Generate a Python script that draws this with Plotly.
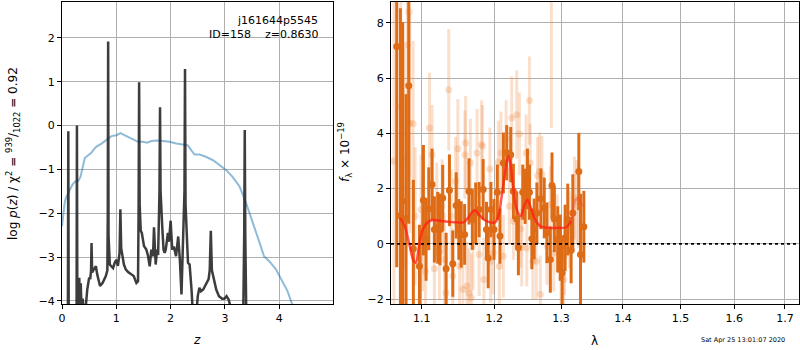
import numpy as np
import plotly.graph_objects as go

# ---------------- Left panel: log p(z) ----------------
pz_z = [0.0, 0.10, 0.108, 0.116, 0.124, 0.20, 0.268, 0.275, 0.283, 0.30, 0.318, 0.33, 0.345, 0.36,
        0.38, 0.40, 0.44, 0.465, 0.50, 0.52, 0.535, 0.544, 0.555, 0.587, 0.624, 0.65, 0.70, 0.746,
        0.807, 0.835, 0.843, 0.85, 0.857, 0.88, 0.91, 0.94, 0.97, 1.0, 1.03, 1.06, 1.075, 1.09,
        1.14, 1.174, 1.217, 1.26, 1.32, 1.37, 1.40, 1.41, 1.42, 1.43, 1.45, 1.47, 1.51, 1.553,
        1.58, 1.615, 1.645, 1.676, 1.694, 1.725, 1.75, 1.77, 1.795, 1.805, 1.815, 1.847, 1.87,
        1.89, 1.91, 1.95, 1.97, 2.0, 2.03, 2.06, 2.10, 2.14, 2.17, 2.2, 2.225, 2.255, 2.265,
        2.275, 2.32, 2.35, 2.385, 2.41, 2.46, 2.50, 2.53, 2.56, 2.6, 2.65, 2.70, 2.72, 2.74,
        2.76, 2.78, 2.81, 2.84, 2.89, 2.95, 2.99, 3.03, 3.07, 3.095, 3.15, 3.33, 3.355, 3.365,
        3.375, 3.40, 3.6, 4.99]
pz_logp = [-5.0, -5.0, -4.5, -0.13, -4.5, -5.0, -4.5, 0.0, -4.5, -4.3, -3.47, -4.1, -3.6, -4.2,
           -3.95, -4.2, -4.1, -3.74, -3.47, -3.5, -3.3, -2.68, -3.35, -3.28, -3.21, -3.4, -3.66, -3.59,
           -3.43, -3.3, -2.0, 1.92, -2.5, -3.17, -3.2, -3.25, -3.13, -3.06, -3.2, -2.9, -1.91, -2.8,
           -3.17, -3.28, -3.34, -3.38, -3.43, -3.59, -3.55, -2.0, 0.99, -1.8, -2.4, -2.45, -2.75, -2.83,
           -2.95, -3.21, -2.83, -2.98, -2.32, -3.17, -2.83, -2.95, -1.5, 0.42, -1.5, -2.34, -2.83,
           -2.9, -2.83, -2.45, -2.65, -2.17, -2.83, -2.76, -2.98, -2.53, -3.05, -3.85, -2.83, -1.5, 1.29,
           -1.8, -3.13, -3.17, -3.74, -4.3, -4.5, -3.89, -3.7, -3.78, -3.74, -3.62, -3.5, -3.3, -2.4,
           -3.3, -3.43, -3.59, -3.74, -3.89, -3.95, -3.95, -3.89, -3.97, -4.1, -5.0, -5.0, -2.5, -0.1,
           -2.5, -5.0, -5.0, -5.0]

prior_z = [0.0, 0.024, 0.05, 0.073, 0.11, 0.147, 0.19, 0.239, 0.30, 0.34, 0.38, 0.42, 0.46, 0.50,
           0.54, 0.575, 0.636, 0.728, 0.82, 0.911, 1.003, 1.076, 1.187, 1.309, 1.40, 1.492, 1.566,
           1.645, 1.737, 1.859, 1.98, 2.104, 2.226, 2.318, 2.379, 2.44, 2.532, 2.65, 2.78, 2.90,
           3.02, 3.14, 3.27, 3.39, 3.51, 3.63, 3.72, 3.82, 3.94, 4.06, 4.15, 4.24, 4.35]
prior_logp = [-2.3, -2.0, -1.75, -1.65, -1.55, -1.45, -1.35, -1.28, -1.26, -1.17, -0.94, -0.74, -0.7,
              -0.67, -0.62, -0.56, -0.48, -0.41, -0.33, -0.24, -0.22, -0.17, -0.24, -0.32, -0.37, -0.37,
              -0.39, -0.35, -0.34, -0.35, -0.37, -0.41, -0.43, -0.45, -0.56, -0.66, -0.66, -0.71, -0.79,
              -0.9, -1.01, -1.17, -1.39, -1.77, -2.19, -2.64, -2.98, -3.1, -3.28, -3.55, -3.77, -4.08, -4.5]

# ---------------- Right panel: spectrum ----------------
a_wave = [1.0675, 1.0722, 1.0752, 1.0795, 1.083, 1.089, 1.097, 1.1022, 1.1057, 1.1093, 1.1137, 1.1168,
          1.1213, 1.1244, 1.128, 1.1326, 1.1371, 1.1417, 1.1464, 1.15, 1.1533, 1.158, 1.1641, 1.1688,
          1.1735, 1.1783, 1.184, 1.1888, 1.1912, 1.1951, 1.1995, 1.2043, 1.2082, 1.2131, 1.218, 1.2238,
          1.2277, 1.2327, 1.2351, 1.2416, 1.2451, 1.2486, 1.2516, 1.2552, 1.2587, 1.2628, 1.2689, 1.274,
          1.2781, 1.2833, 1.2859, 1.2895, 1.2948, 1.2989, 1.3016, 1.3063, 1.3104, 1.3157, 1.3184, 1.3279,
          1.3306, 1.3359]
a_flux = [7.15, 1.03, 1.54, 0.92, 5.73, -0.18, -0.81, 1.58, 0.16, 1.27, 2.15, 0.52, 0.58, 0.52, 1.66,
          -0.9, 1.94, -0.72, 1.39, 0.52, 0.34, 0.34, 1.9, 0.88, 1.12, 1.24, 1.97, 0.52, -0.51, 1.24, 0.52,
          1.87, 0.28, 2.93, 3.3, 3.23, 1.9, 0.9, -0.14, 1.87, 1.72, 2.35, 1.87, 0.18, 0.54, 1.12, 1.63,
          1.3, 0.4, -0.57, 2.11, 0.9, 0.16, -0.14, -1.05, 0.22, 0.88, -0.23, 1.12, 2.62, -0.39, 0.62]
a_err = [8.0, 7.5, 6.5, 4.5, 5.0, 2.5, 1.5, 2.0, 1.5, 1.5, 1.3, 1.2, 1.3, 1.3, 1.2, 1.3, 1.3, 1.2, 1.2,
         1.1, 1.2, 1.1, 1.2, 1.1, 1.1, 1.0, 1.1, 1.0, 1.1, 1.0, 1.1, 1.0, 1.0, 1.1, 1.0, 1.0, 1.0, 1.0,
         1.0, 1.0, 1.0, 1.1, 1.0, 1.1, 1.1, 1.1, 1.1, 1.1, 1.1, 1.2, 1.2, 1.2, 1.2, 1.2, 1.2, 1.2, 1.3,
         1.2, 1.4, 1.4, 2.2, 1.3]

b_wave = [1.0640, 1.0726, 1.0769, 1.0812, 1.0834, 1.0843, 1.0887, 1.0913, 1.0991, 1.1013, 1.1049,
          1.1102, 1.1137, 1.1168, 1.12, 1.1235, 1.1271, 1.1303, 1.1326, 1.1362, 1.1395, 1.1417, 1.1455,
          1.1487, 1.151, 1.1556, 1.1584, 1.1594, 1.1612, 1.1641, 1.166, 1.1674, 1.1697, 1.1754, 1.1783,
          1.1816, 1.1831, 1.185, 1.1936, 1.1946, 1.1985, 1.2058, 1.2072, 1.2096, 1.2131, 1.217, 1.2218,
          1.2253, 1.2277, 1.2327, 1.2366, 1.2386, 1.2401, 1.2466, 1.2476, 1.2516, 1.2527, 1.2567, 1.2618,
          1.2638, 1.2669, 1.268, 1.2705, 1.2781, 1.2833, 1.2849, 1.2885, 1.2937, 1.3, 1.3042, 1.3052,
          1.313, 1.321, 1.3247, 1.3273]
b_flux = [3.0, 4.98, 3.11, 7.2, 8.42, 4.38, 4.35, 1.0, 1.24, 0.28, -0.99, 4.2, 3.23, -0.9, 1.24, -0.33,
          1.36, -0.57, -1.77, 5.58, 1.0, -1.17, 2.27, 3.44, -0.81, -1.65, 3.23, 3.65, -1.53, -1.77, 2.93,
          -1.95, -0.08, 3.29, -0.39, 3.6, 3.53, -1.29, 2.71, -0.63, -0.33, 2.96, -0.81, 3.29, -0.45, 3.8,
          1.36, 4.56, 0.82, 4.68, 3.98, 0.54, -0.14, 3.29, -0.14, 5.19, 2.93, -0.63, -0.63, 2.47, 2.63,
          -1.83, 2.51, -0.08, 1.42, 9.5, -0.33, 0.4, -1.23, -1.29, -0.45, 0.52, 1.66, 1.54, 1.36]
b_err = [6.0, 5.0, 4.0, 6.0, 6.0, 4.0, 3.0, 2.5, 2.0, 2.0, 1.8, 2.0, 1.8, 1.8, 1.7, 1.7, 1.7, 1.7, 1.7,
         2.2, 1.7, 1.7, 1.6, 1.8, 1.6, 1.7, 1.6, 1.7, 1.6, 1.6, 1.6, 1.6, 1.6, 1.6, 1.5, 1.6, 1.5, 1.5,
         1.5, 1.5, 1.5, 1.5, 1.5, 1.5, 1.5, 1.4, 1.4, 1.5, 1.4, 1.6, 1.5, 1.4, 1.4, 1.4, 1.4, 1.6, 1.4,
         1.4, 1.4, 1.4, 1.4, 1.4, 1.4, 1.4, 1.4, 5.3, 1.4, 1.4, 1.4, 1.4, 1.4, 1.4, 1.5, 1.5, 1.5]

model_wave = [1.0717, 1.0778, 1.0843, 1.0886, 1.0921, 1.0965, 1.1013, 1.108, 1.1146, 1.128, 1.1464,
              1.1565, 1.1627, 1.172, 1.1792, 1.1888, 1.201, 1.2058, 1.2106, 1.2155, 1.2204, 1.2238,
              1.2277, 1.2327, 1.2386, 1.2426, 1.2486, 1.2537, 1.2602, 1.2679, 1.2781, 1.2937, 1.3078,
              1.3157]
model_flux = [0.94, 0.64, -0.08, -0.57, -0.69, -0.08, 0.52, 0.78, 0.86, 0.82, 0.78, 0.78, 0.94, 1.22,
              1.03, 0.82, 0.78, 1.0, 1.72, 2.57, 3.17, 2.81, 1.97, 1.24, 1.0, 1.3, 1.6, 1.3, 0.88, 0.64,
              0.58, 0.58, 0.6, 0.82]
model2_wave = [1.3157, 1.321, 1.3263, 1.3316, 1.337]
model2_flux = [0.82, 1.48, 1.66, 1.48, 1.35]

zero_wave = [1.0602, 1.729]
zero_flux = [0.0, 0.0]

x_ticks_spec = [1.1, 1.2, 1.3, 1.4, 1.5, 1.6, 1.7]

ORANGE = "rgb(222,108,22)"
ORANGE_LIGHT = "rgba(236,128,50,0.25)"
FONT = "DejaVu Sans"
W, H = 800, 350

fig = go.Figure()

fig.add_trace(go.Scatter(x=prior_z, y=prior_logp, mode="lines",
                         line=dict(color="rgba(31,119,180,0.5)", width=2),
                         xaxis="x", yaxis="y", showlegend=False))
fig.add_trace(go.Scatter(x=pz_z, y=pz_logp, mode="lines",
                         line=dict(color="rgba(40,40,40,0.9)", width=2.5),
                         xaxis="x", yaxis="y", showlegend=False))

fig.add_trace(go.Scatter(x=b_wave, y=b_flux, mode="markers",
                         marker=dict(color=ORANGE_LIGHT, size=7),
                         error_y=dict(type="data", array=b_err, color=ORANGE_LIGHT, thickness=3, width=0),
                         xaxis="x2", yaxis="y2", showlegend=False))
fig.add_trace(go.Scatter(x=a_wave, y=a_flux, mode="markers",
                         marker=dict(color=ORANGE, size=7),
                         error_y=dict(type="data", array=a_err, color=ORANGE, thickness=3, width=0),
                         xaxis="x2", yaxis="y2", showlegend=False))
fig.add_trace(go.Scatter(x=model_wave, y=model_flux, mode="lines", line_shape="spline",
                         line=dict(color="rgba(255,30,20,0.75)", width=2.5),
                         xaxis="x2", yaxis="y2", showlegend=False))
fig.add_trace(go.Scatter(x=model2_wave, y=model2_flux, mode="lines", line_shape="spline",
                         line=dict(color="rgba(255,60,60,0.3)", width=2.5),
                         xaxis="x2", yaxis="y2", showlegend=False))
fig.add_trace(go.Scatter(x=zero_wave, y=zero_flux, mode="lines",
                         line=dict(color="black", width=1.8, dash="dot"),
                         xaxis="x2", yaxis="y2", showlegend=False))

axis_common = dict(showline=True, linecolor="black", linewidth=1, mirror=True,
                   ticks="outside", ticklen=4, tickcolor="black", tickwidth=1,
                   showgrid=True, gridcolor="#b0b0b0", gridwidth=1, zeroline=False,
                   automargin=False,
                   tickfont=dict(family=FONT, size=11, color="black"))

ydom = [1 - 304 / H, 1 - 2 / H]

fig.update_layout(
    template="none",
    width=W, height=H,
    margin=dict(l=0, r=0, t=0, b=0, pad=0),
    paper_bgcolor="white", plot_bgcolor="white",
    font=dict(family=FONT, color="black"),
    xaxis=dict(domain=[62/W, 333/W], range=[0, 4.99], tickvals=[0, 1, 2, 3, 4],
               anchor="y", **axis_common),
    yaxis=dict(domain=ydom, range=[-4.07, 2.82], tickvals=[-4, -3, -2, -1, 0, 1, 2],
               anchor="x", **axis_common),
    xaxis2=dict(domain=[391/W, 799/W], type="log",
                range=[np.log10(1.0602), np.log10(1.729)],
                tickvals=x_ticks_spec, ticktext=[f"{v:.1f}" for v in x_ticks_spec],
                anchor="y2", **axis_common),
    yaxis2=dict(domain=ydom, range=[-2.18, 8.76], tickvals=[-2, 0, 2, 4, 6, 8],
                anchor="x2", **axis_common),
)

ann = [
    dict(text="j161644p5545", x=320/W, y=1-20/H, xanchor="right", yanchor="middle",
         font=dict(size=11)),
    dict(text="ID=158\u00a0\u00a0\u00a0\u00a0z=0.8630", x=320/W, y=1-35/H, xanchor="right",
         yanchor="middle", font=dict(size=11)),
    dict(text="log <i>p</i>(<i>z</i>) / χ<sup>2</sup> = <sup>939</sup>/<sub>1022</sub> = 0.92",
         x=13/W, y=1-154/H, textangle=-90, xanchor="center", yanchor="middle",
         font=dict(size=12)),
    dict(text="<i>z</i>", x=197/W, y=1-340/H, xanchor="center", yanchor="middle",
         font=dict(size=12)),
    dict(text="<i>f</i><sub>λ</sub> × 10<sup>−19</sup>", x=345/W, y=1-152/H, textangle=-90,
         xanchor="center", yanchor="middle", font=dict(size=12)),
    dict(text="λ", x=594/W, y=1-341/H, xanchor="center", yanchor="middle", font=dict(size=12)),
    dict(text="Sat Apr 25 13:01:07 2020", x=743/W, y=1-340/H, xanchor="center",
         yanchor="middle", font=dict(size=6.5)),
]
for a in ann:
    a.update(xref="paper", yref="paper", showarrow=False)
fig.update_layout(annotations=ann)

fig.write_html("out.html",
               config={"displayModeBar": False},
               post_script="document.body.style.margin='0px';document.body.style.padding='0px';")
